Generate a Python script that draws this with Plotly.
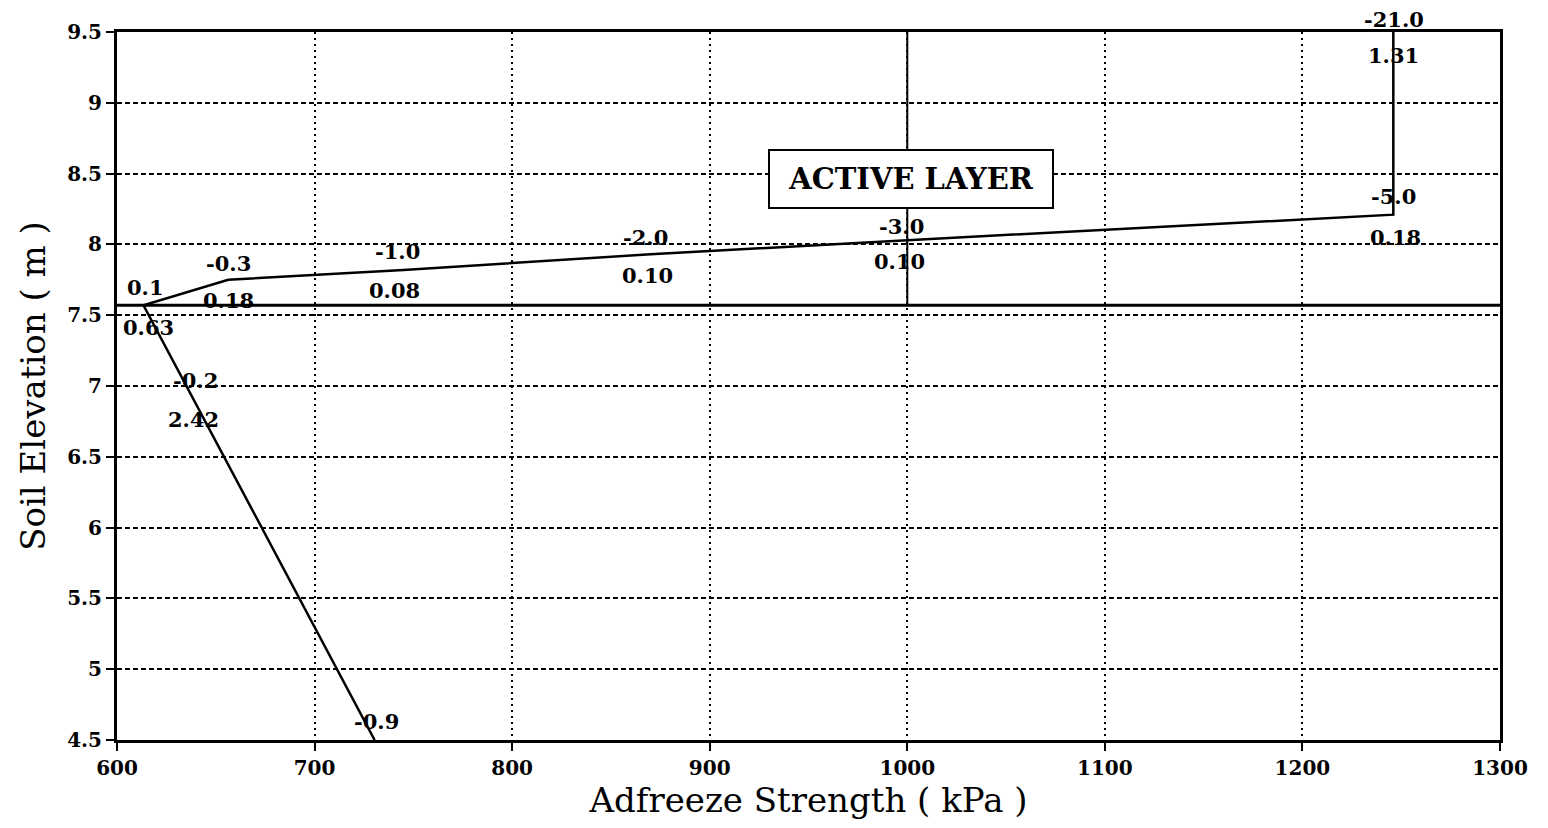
import plotly.graph_objects as go

# Adfreeze strength profile (kPa) vs soil elevation (m)
profile_x = [730.4, 613.4, 656.3, 745.0, 870.0, 1000.0, 1246.0, 1246.0]
profile_y = [4.5, 7.57, 7.75, 7.82, 7.93, 8.03, 8.21, 9.5]

# Base of active layer (horizontal) and reference line at 1000 kPa
base_x = [600, 1300]
base_y = [7.57, 7.57]
ref_x = [1000, 1000]
ref_y = [7.57, 9.5]

# Point labels (text, x in kPa, y in m)
label_text = ["-21.0", "1.31", "-5.0", "0.18", "-3.0", "0.10", "-2.0", "0.10",
              "-1.0", "0.08", "-0.3", "0.18", "0.1", "0.63", "-0.2", "2.42", "-0.9"]
label_x = [1246.3, 1246.3, 1246.3, 1247.0, 997.1, 996.3, 867.5, 868.3,
           742.2, 740.5, 656.3, 656.3, 614.3, 616.0, 639.5, 638.7, 731.2]
label_y = [9.59, 9.336, 8.340, 8.049, 8.124, 7.876, 8.049, 7.778,
           7.947, 7.672, 7.865, 7.601, 7.696, 7.413, 7.036, 6.764, 4.629]

x_range = [600, 1300]
y_range = [4.5, 9.5]
x_ticks = [600, 700, 800, 900, 1000, 1100, 1200, 1300]
x_tick_text = ["600", "700", "800", "900", "1000", "1100", "1200", "1300"]
y_ticks = [4.5, 5, 5.5, 6, 6.5, 7, 7.5, 8, 8.5, 9, 9.5]
y_tick_text = ["4.5", "5", "5.5", "6", "6.5", "7", "7.5", "8", "8.5", "9", "9.5"]

box_text = "ACTIVE LAYER"
box_x = 1002
box_y = 8.46

SERIF = "DejaVu Serif"

fig = go.Figure()
fig.add_trace(go.Scatter(x=base_x, y=base_y, mode="lines",
                         line=dict(color="black", width=3), hoverinfo="skip"))
fig.add_trace(go.Scatter(x=ref_x, y=ref_y, mode="lines",
                         line=dict(color="black", width=2), hoverinfo="skip"))
fig.add_trace(go.Scatter(x=profile_x, y=profile_y, mode="lines",
                         line=dict(color="black", width=2.5), hoverinfo="skip"))

label_font = dict(family=SERIF, size=21, color="black", weight="bold")
for t, lx, ly in zip(label_text, label_x, label_y):
    if ly > y_range[1]:
        # above the plot area: place in paper coordinates so it is not hidden
        fig.add_annotation(x=lx, xref="x", y=(ly - y_range[0]) / (y_range[1] - y_range[0]),
                           yref="paper", text=t, showarrow=False,
                           xanchor="center", yanchor="middle", font=label_font)
    else:
        fig.add_annotation(x=lx, y=ly, text=t, showarrow=False,
                           xanchor="center", yanchor="middle", font=label_font)

fig.add_annotation(x=box_x, y=box_y, text=box_text, showarrow=False,
                   xanchor="center", yanchor="middle",
                   font=dict(family=SERIF, size=29, color="black", weight="bold"),
                   width=262, height=36,
                   bgcolor="white", bordercolor="black", borderwidth=2, borderpad=10)

fig.update_layout(
    width=1532, height=812,
    margin=dict(l=109, r=35, t=24, b=78),
    paper_bgcolor="white", plot_bgcolor="white",
    showlegend=False,
    xaxis=dict(range=x_range, tickvals=x_ticks, ticktext=x_tick_text,
               showgrid=True, gridcolor="black", gridwidth=2, griddash="2px,4px",
               showline=True, linecolor="black", linewidth=3, mirror=True,
               ticks="outside", ticklen=8, tickwidth=2, tickcolor="black",
               zeroline=False,
               tickfont=dict(family=SERIF, size=20, color="black", weight="bold"),
               title=dict(text="Adfreeze Strength ( kPa )", standoff=4,
                          font=dict(family=SERIF, size=34, color="black"))),
    yaxis=dict(range=y_range, tickvals=y_ticks, ticktext=y_tick_text,
               showgrid=True, gridcolor="black", gridwidth=2, griddash="5px,3px",
               showline=True, linecolor="black", linewidth=3, mirror=True,
               ticks="outside", ticklen=8, tickwidth=2, tickcolor="black",
               zeroline=False,
               tickfont=dict(family=SERIF, size=20, color="black", weight="bold"),
               title=dict(text="Soil Elevation ( m )", standoff=12,
                          font=dict(family=SERIF, size=34, color="black"))),
)

fig.write_html("out.html")
